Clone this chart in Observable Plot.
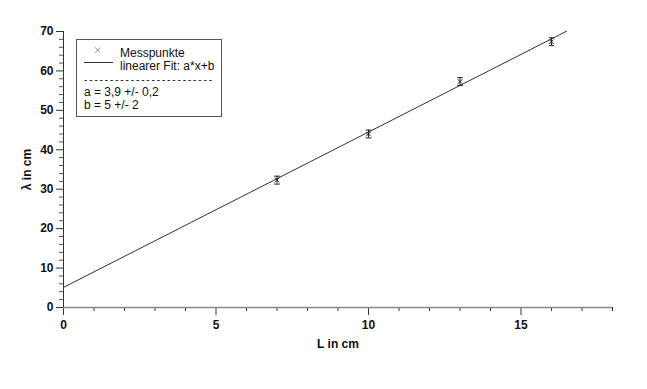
<!DOCTYPE html>
<html>
<head>
<meta charset="utf-8">
<script src="https://cdn.jsdelivr.net/npm/d3@7"></script>
<script src="https://cdn.jsdelivr.net/npm/@observablehq/plot@0.6"></script>
<style>
  html, body { margin: 0; padding: 0; background: #fff; }
  #wrap { position: relative; width: 647px; height: 389px; font-family: "Liberation Sans", Arial, Helvetica, sans-serif; }
  #wrap svg.plot text { font-weight: 600; }
  #legend { position: absolute; left: 76px; top: 39px; }
  #legend text { font-family: "Liberation Sans", Arial, sans-serif; font-size: 12px; fill: #111; }
  #legend text.dashes { font-size: 10px; }
</style>
</head>
<body>
<div id="wrap"></div>
<script>
// Measured points
const lengthsL = [7, 10, 13, 16];
const lambdas = [32.3, 44.0, 57.3, 67.4];
const errors = [1.0, 1.0, 1.0, 1.0];
// Linear fit endpoints
const fitL = [0, 16.5];
const fitLambda = [5.1, 70.1];
// Ticks
const xMajor = [0, 5, 10, 15];
const xMinor = [1, 2, 3, 4, 6, 7, 8, 9, 11, 12, 13, 14, 16, 17, 18];
const yMajor = [0, 10, 20, 30, 40, 50, 60, 70];
const yMinor = [2, 4, 6, 8, 12, 14, 16, 18, 22, 24, 26, 28, 32, 34, 36, 38, 42, 44, 46, 48, 52, 54, 56, 58, 62, 64, 66, 68];
// Legend texts
const legendSeries = ["Messpunkte", "linearer Fit: a*x+b"];
const legendParams = ["a = 3,9 +/- 0,2", "b = 5 +/- 2"];

const points = lengthsL.map((x, i) => ({x, y: lambdas[i], lo: lambdas[i] - errors[i], hi: lambdas[i] + errors[i]}));
const fit = fitL.map((x, i) => ({x, y: fitLambda[i]}));

const capSymbol = {
  draw(context, size) {
    const w = Math.sqrt(size) / 2;
    context.moveTo(-w, 0);
    context.lineTo(w, 0);
  }
};

const chart = Plot.plot({
  width: 647,
  height: 389,
  marginLeft: 63,
  marginRight: 35,
  marginTop: 31,
  marginBottom: 82,
  x: {domain: [0, 18]},
  y: {domain: [0, 70]},
  style: {fontFamily: "'Liberation Sans', Arial, sans-serif", fontSize: "12px", color: "#111", background: "white"},
  marks: [
    Plot.axisX({ticks: xMinor, tickSize: 4, tickFormat: () => "", label: null, stroke: "#333"}),
    Plot.axisX({ticks: xMajor, tickSize: 8, tickPadding: 5, tickFormat: d => String(d), stroke: "#333",
      label: "L in cm", labelAnchor: "center", labelOffset: 40, labelArrow: "none"}),
    Plot.axisY({ticks: yMinor, tickSize: 4, tickFormat: () => "", label: null, stroke: "#555"}),
    Plot.axisY({ticks: yMajor, tickSize: 7, tickPadding: 3, tickFormat: d => String(d), stroke: "#333",
      label: "λ in cm", labelAnchor: "center", labelOffset: 41, labelArrow: "none"}),
    Plot.ruleY([0], {stroke: "#888", strokeWidth: 1.5}),
    Plot.ruleX([0], {stroke: "#333", strokeWidth: 1}),
    Plot.line(fit, {x: "x", y: "y", stroke: "#333", strokeWidth: 1}),
    Plot.ruleX(points, {x: "x", y1: "lo", y2: "hi", stroke: "#222", strokeWidth: 1}),
    Plot.dot(points, {x: "x", y: "lo", symbol: capSymbol, r: 3.2, stroke: "#222", strokeWidth: 1}),
    Plot.dot(points, {x: "x", y: "hi", symbol: capSymbol, r: 3.2, stroke: "#222", strokeWidth: 1}),
    Plot.dot(points, {x: "x", y: "y", symbol: "times", r: 2.2, stroke: "#222", strokeWidth: 1})
  ]
});
chart.classList.add("plot");
document.getElementById("wrap").appendChild(chart);

// Legend
const lg = d3.select("#wrap").append("svg")
  .attr("id", "legend").attr("width", 147).attr("height", 79);
lg.append("rect").attr("x", 0.5).attr("y", 0.5).attr("width", 145).attr("height", 77)
  .attr("fill", "white").attr("stroke", "#555").attr("stroke-width", 1);
lg.append("path").attr("d", d3.symbol(d3.symbolTimes, 18)()).attr("transform", "translate(21.7,11)")
  .attr("stroke", "#888").attr("fill", "none").attr("stroke-width", 1);
lg.append("line").attr("x1", 8).attr("x2", 37).attr("y1", 23.5).attr("y2", 23.5)
  .attr("stroke", "#333").attr("stroke-width", 1);
lg.append("text").attr("x", 44).attr("y", 17.5).text(legendSeries[0]);
lg.append("text").attr("x", 44).attr("y", 30.5).text(legendSeries[1]);
lg.append("text").attr("class", "dashes").attr("x", 8).attr("y", 43.5).attr("textLength", 128).attr("lengthAdjust", "spacing").text("-".repeat(25));
lg.append("text").attr("x", 8).attr("y", 56.5).text(legendParams[0]);
lg.append("text").attr("x", 8).attr("y", 70).text(legendParams[1]);
</script>
</body>
</html>
